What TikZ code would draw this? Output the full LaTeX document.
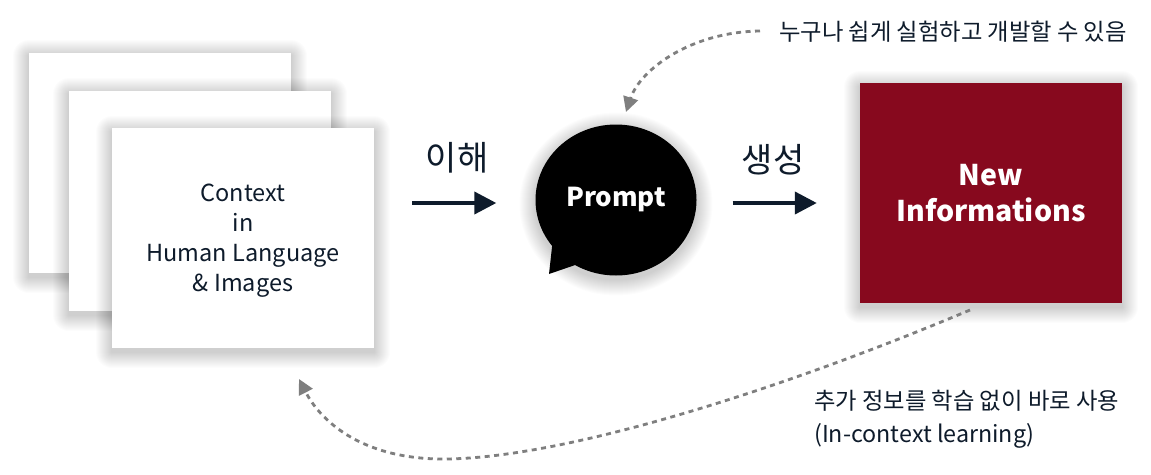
\documentclass[tikz,border=0pt]{standalone}
\usepackage{fontspec}
\setmainfont{Noto Sans CJK KR}
\usetikzlibrary{arrows.meta,shapes.geometric,calc}
\definecolor{navy}{HTML}{0E1B2B}
\definecolor{dgray}{HTML}{7F7F7F}
\definecolor{wine}{RGB}{135,9,30}
% soft shadow behind a box given by its corners (picture units, y downwards)
\newcommand{\boxshade}[4]{%
  \foreach \k in {1,...,16}{%
    \fill[black, opacity=0.011, rounded corners=\k pt] (#1-\k, #2-\k+4) rectangle (#3+\k, #4+\k+4);
  }}
% soft shadow behind an ellipse: centre x, centre y, x radius, y radius
\newcommand{\ovalshade}[4]{%
  \foreach \k in {1,...,16}{%
    \fill[black, opacity=0.011] (#1, #2+4) ellipse [x radius=#3+\k, y radius=#4+\k];
  }}
\begin{document}
\begin{tikzpicture}[x=1pt,y=-1pt,
  paper/.style={fill=white, minimum width=262pt, minimum height=220pt, inner sep=0pt},
  flow/.style={draw=navy, line width=4pt, -{Triangle[length=22pt,width=22pt]}},
  hint/.style={draw=dgray, line width=2.8pt, dash pattern=on 5pt off 4.5pt, -{Triangle[length=15pt,width=15pt]}},
  flowlabel/.style={text=navy, font=\fontsize{34}{36}\selectfont, inner sep=0pt},
  note/.style={text=navy, font=\fontsize{23.3}{33}\selectfont, inner sep=0pt, align=left}
]
\useasboundingbox (0,0) rectangle (1151,474);
\fill[white] (0,0) rectangle (1151,474);

% stacked context papers
\boxshade{29}{52}{291}{273}
\node[paper] (paper1) at (160,162.5) {};
\boxshade{69}{90}{331}{311}
\node[paper] (paper2) at (200,200.5) {};
\boxshade{112}{128}{374}{348}
\node[paper] (paper3) at (243,238) {};
\node[align=center, text=navy, font=\fontsize{23.5}{30}\selectfont, inner sep=0pt] (ctext) at (243,241)
  {Context\\in\\Human Language\\\& Images};

% prompt bubble
\ovalshade{616}{200}{80.5}{75.5}
\node[ellipse, fill=black, minimum width=161pt, minimum height=151pt, inner sep=0pt] (prompt) at (616,200) {};
\fill[black] (553,238) -- (549,274) -- (581,263) -- (590,250) -- cycle;
\node[text=white, font=\bfseries\fontsize{26}{30}\selectfont, inner sep=0pt] (ptext) at (616,200) {Prompt};

% new informations
\boxshade{860}{83}{1122}{303}
\node[fill=wine, minimum width=262pt, minimum height=220pt, inner sep=0pt,
  align=center, text=white, font=\bfseries\fontsize{28.5}{36}\selectfont] (newinfo) at (991,193) {New\\Informations};

% flow arrows
\draw[flow] ($(paper3.east |- prompt.west)+(38,3)$) -- ($(prompt.west)+(-39,3)$);
\node[flowlabel] (l1) at (457,158) {이해};
\draw[flow] ($(prompt.east)+(36,3)$) -- ($(newinfo.west |- prompt.east)+(-43,3)$);
\node[flowlabel] (l2) at (773,160) {생성};

% top note
\node[note, anchor=west] (topnote) at (779,32) {누구나 쉽게 실험하고 개발할 수 있음};
\coordinate (t1) at (760,31);
\coordinate (t2) at (626,112);
\draw[hint] (t1) .. controls (690,32) and (640,70) .. (t2);

% bottom note
\node[note, anchor=west] (botnote) at (814,419) {추가 정보를 학습 없이 바로 사용\\(In-context learning)};
\coordinate (b1) at (970,310);
\coordinate (bm) at (440,459);
\coordinate (b2) at (299,379);
\draw[hint] (b1) .. controls (780,390) and (560,460) .. (bm) .. controls (360,458) and (320,420) .. (b2);
\end{tikzpicture}
\end{document}
